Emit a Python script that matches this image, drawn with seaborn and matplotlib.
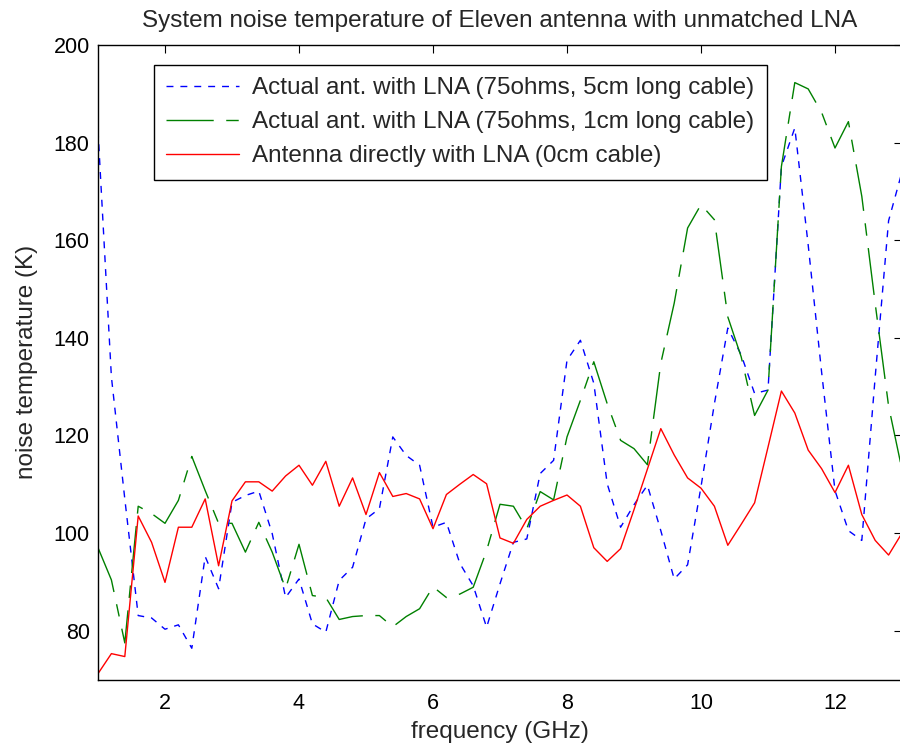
import numpy as np
import pandas as pd
import matplotlib
matplotlib.use("Agg")
import matplotlib.pyplot as plt
import seaborn as sns

# ---------------- data ----------------
freq = [1.0, 1.2, 1.4, 1.6, 1.8, 2.0, 2.2, 2.4, 2.6, 2.8,
        3.0, 3.2, 3.4, 3.6, 3.8, 4.0, 4.2, 4.4, 4.6, 4.8,
        5.0, 5.2, 5.4, 5.6, 5.8, 6.0, 6.2, 6.4, 6.6, 6.8,
        7.0, 7.2, 7.4, 7.6, 7.8, 8.0, 8.2, 8.4, 8.6, 8.8,
        9.0, 9.2, 9.4, 9.6, 9.8, 10.0, 10.2, 10.4, 10.6, 10.8,
        11.0, 11.2, 11.4, 11.6, 11.8, 12.0, 12.2, 12.4, 12.6, 12.8,
        13.0]

blue_5cm = [182.5, 132.0, 107.0, 83.1, 82.6, 80.3, 81.2, 76.4, 95.2, 88.6,
            106.3, 107.7, 108.6, 99.9, 86.8, 90.6, 81.4, 79.7, 90.3, 93.0,
            102.9, 105.0, 119.7, 115.9, 113.9, 101.2, 102.2, 93.8, 89.2, 80.7,
            89.6, 98.1, 98.8, 112.2, 114.9, 135.4, 139.5, 130.7, 110.1, 101.2,
            105.8, 109.8, 100.5, 90.6, 93.5, 109.5, 126.5, 142.0, 136.5, 128.6,
            129.3, 175.1, 183.0, 159.0, 133.0, 108.7, 100.5, 98.5, 132.0, 164.0,
            174.0]

green_1cm = [97.0, 90.4, 77.5, 105.5, 104.0, 102.0, 106.7, 115.7, 108.7, 102.0,
             102.0, 96.1, 102.2, 96.1, 88.6, 97.7, 87.2, 86.8, 82.3, 82.9,
             83.1, 83.1, 80.8, 82.9, 84.5, 89.0, 86.8, 87.5, 88.9, 96.4,
             105.9, 105.5, 100.9, 108.5, 106.8, 119.7, 127.2, 135.1, 126.5, 119.0,
             117.3, 114.0, 134.8, 147.1, 162.5, 167.3, 164.2, 144.3, 136.1, 124.1,
             129.3, 175.1, 192.3, 191.0, 186.2, 178.9, 184.3, 169.0, 147.0, 126.0,
             113.0]

red_0cm = [71.2, 75.3, 74.7, 103.5, 98.1, 89.9, 101.2, 101.2, 107.0, 93.3,
           106.6, 110.5, 110.5, 108.6, 111.7, 113.9, 109.8, 114.7, 105.5, 111.3,
           103.8, 112.4, 107.5, 108.1, 107.0, 100.9, 107.9, 110.0, 112.0, 110.1,
           99.0, 97.9, 102.8, 105.5, 106.7, 107.8, 105.5, 97.0, 94.2, 96.8,
           104.8, 113.1, 121.4, 116.0, 111.3, 109.2, 105.5, 97.5, 101.8, 106.2,
           117.6, 129.1, 124.6, 117.0, 113.2, 108.3, 113.9, 103.8, 98.5, 95.5,
           100.0]

series_labels = ["Actual ant. with LNA (75ohms, 5cm long cable)",
                 "Actual ant. with LNA (75ohms, 1cm long cable)",
                 "Antenna directly with LNA (0cm cable)"]
title_text = "System noise temperature of Eleven antenna with unmatched LNA"
xlabel_text = "frequency (GHz)"
ylabel_text = "noise temperature (K)"
xticks = [2, 4, 6, 8, 10, 12]
yticks = [80, 100, 120, 140, 160, 180, 200]

# ---------------- style ----------------
sns.set_theme(style="white")
plt.rcParams["font.family"] = ["Liberation Sans", "DejaVu Sans"]
plt.rcParams["lines.scale_dashes"] = False
FS_TICK = 15.5
FS_TEXT = 17.5

fig = plt.figure(figsize=(9, 7.5), dpi=100)
ax = fig.add_axes([98 / 900, 70.5 / 750, 804 / 900, 634.5 / 750])

styles = [("#0000ff", (0, (5, 5))),
          ("#008000", (0, (34, 9, 9, 9))),
          ("#ff0000", "-")]

for vals, lab, (col, ls) in zip([blue_5cm, green_1cm, red_0cm], series_labels, styles):
    df = pd.DataFrame({"freq": freq, "T": vals})
    sns.lineplot(data=df, x="freq", y="T", ax=ax, color=col, linewidth=1.0,
                 linestyle=ls, label=lab, legend=False)

ax.set_xlim(1, 13)
ax.set_ylim(70, 200)
ax.set_xticks(xticks)
ax.set_yticks(yticks)
ax.set_xlabel(xlabel_text, fontsize=FS_TEXT, labelpad=5)
ax.set_ylabel(ylabel_text, fontsize=FS_TEXT, labelpad=11)
ax.set_title(title_text, fontsize=FS_TEXT, pad=13)
ax.tick_params(direction="in", top=True, right=True, length=6, width=0.8,
               labelsize=FS_TICK, colors="black")
ax.tick_params(axis="x", pad=10)
ax.tick_params(axis="y", pad=6)
for sp in ax.spines.values():
    sp.set_visible(True)
    sp.set_color("black")
    sp.set_linewidth(1.0)
ax.grid(False)

leg = ax.legend(handles=ax.lines[:3], labels=series_labels, loc="upper left",
                bbox_to_anchor=(0.0697, 0.9685), borderaxespad=0, fontsize=FS_TEXT,
                frameon=True, fancybox=False, framealpha=1, edgecolor="black",
                handlelength=3.0, handletextpad=0.55, borderpad=0.5,
                labelspacing=0.5)
leg.get_frame().set_linewidth(1.0)

fig.savefig("out.png", dpi=100, facecolor="white")
